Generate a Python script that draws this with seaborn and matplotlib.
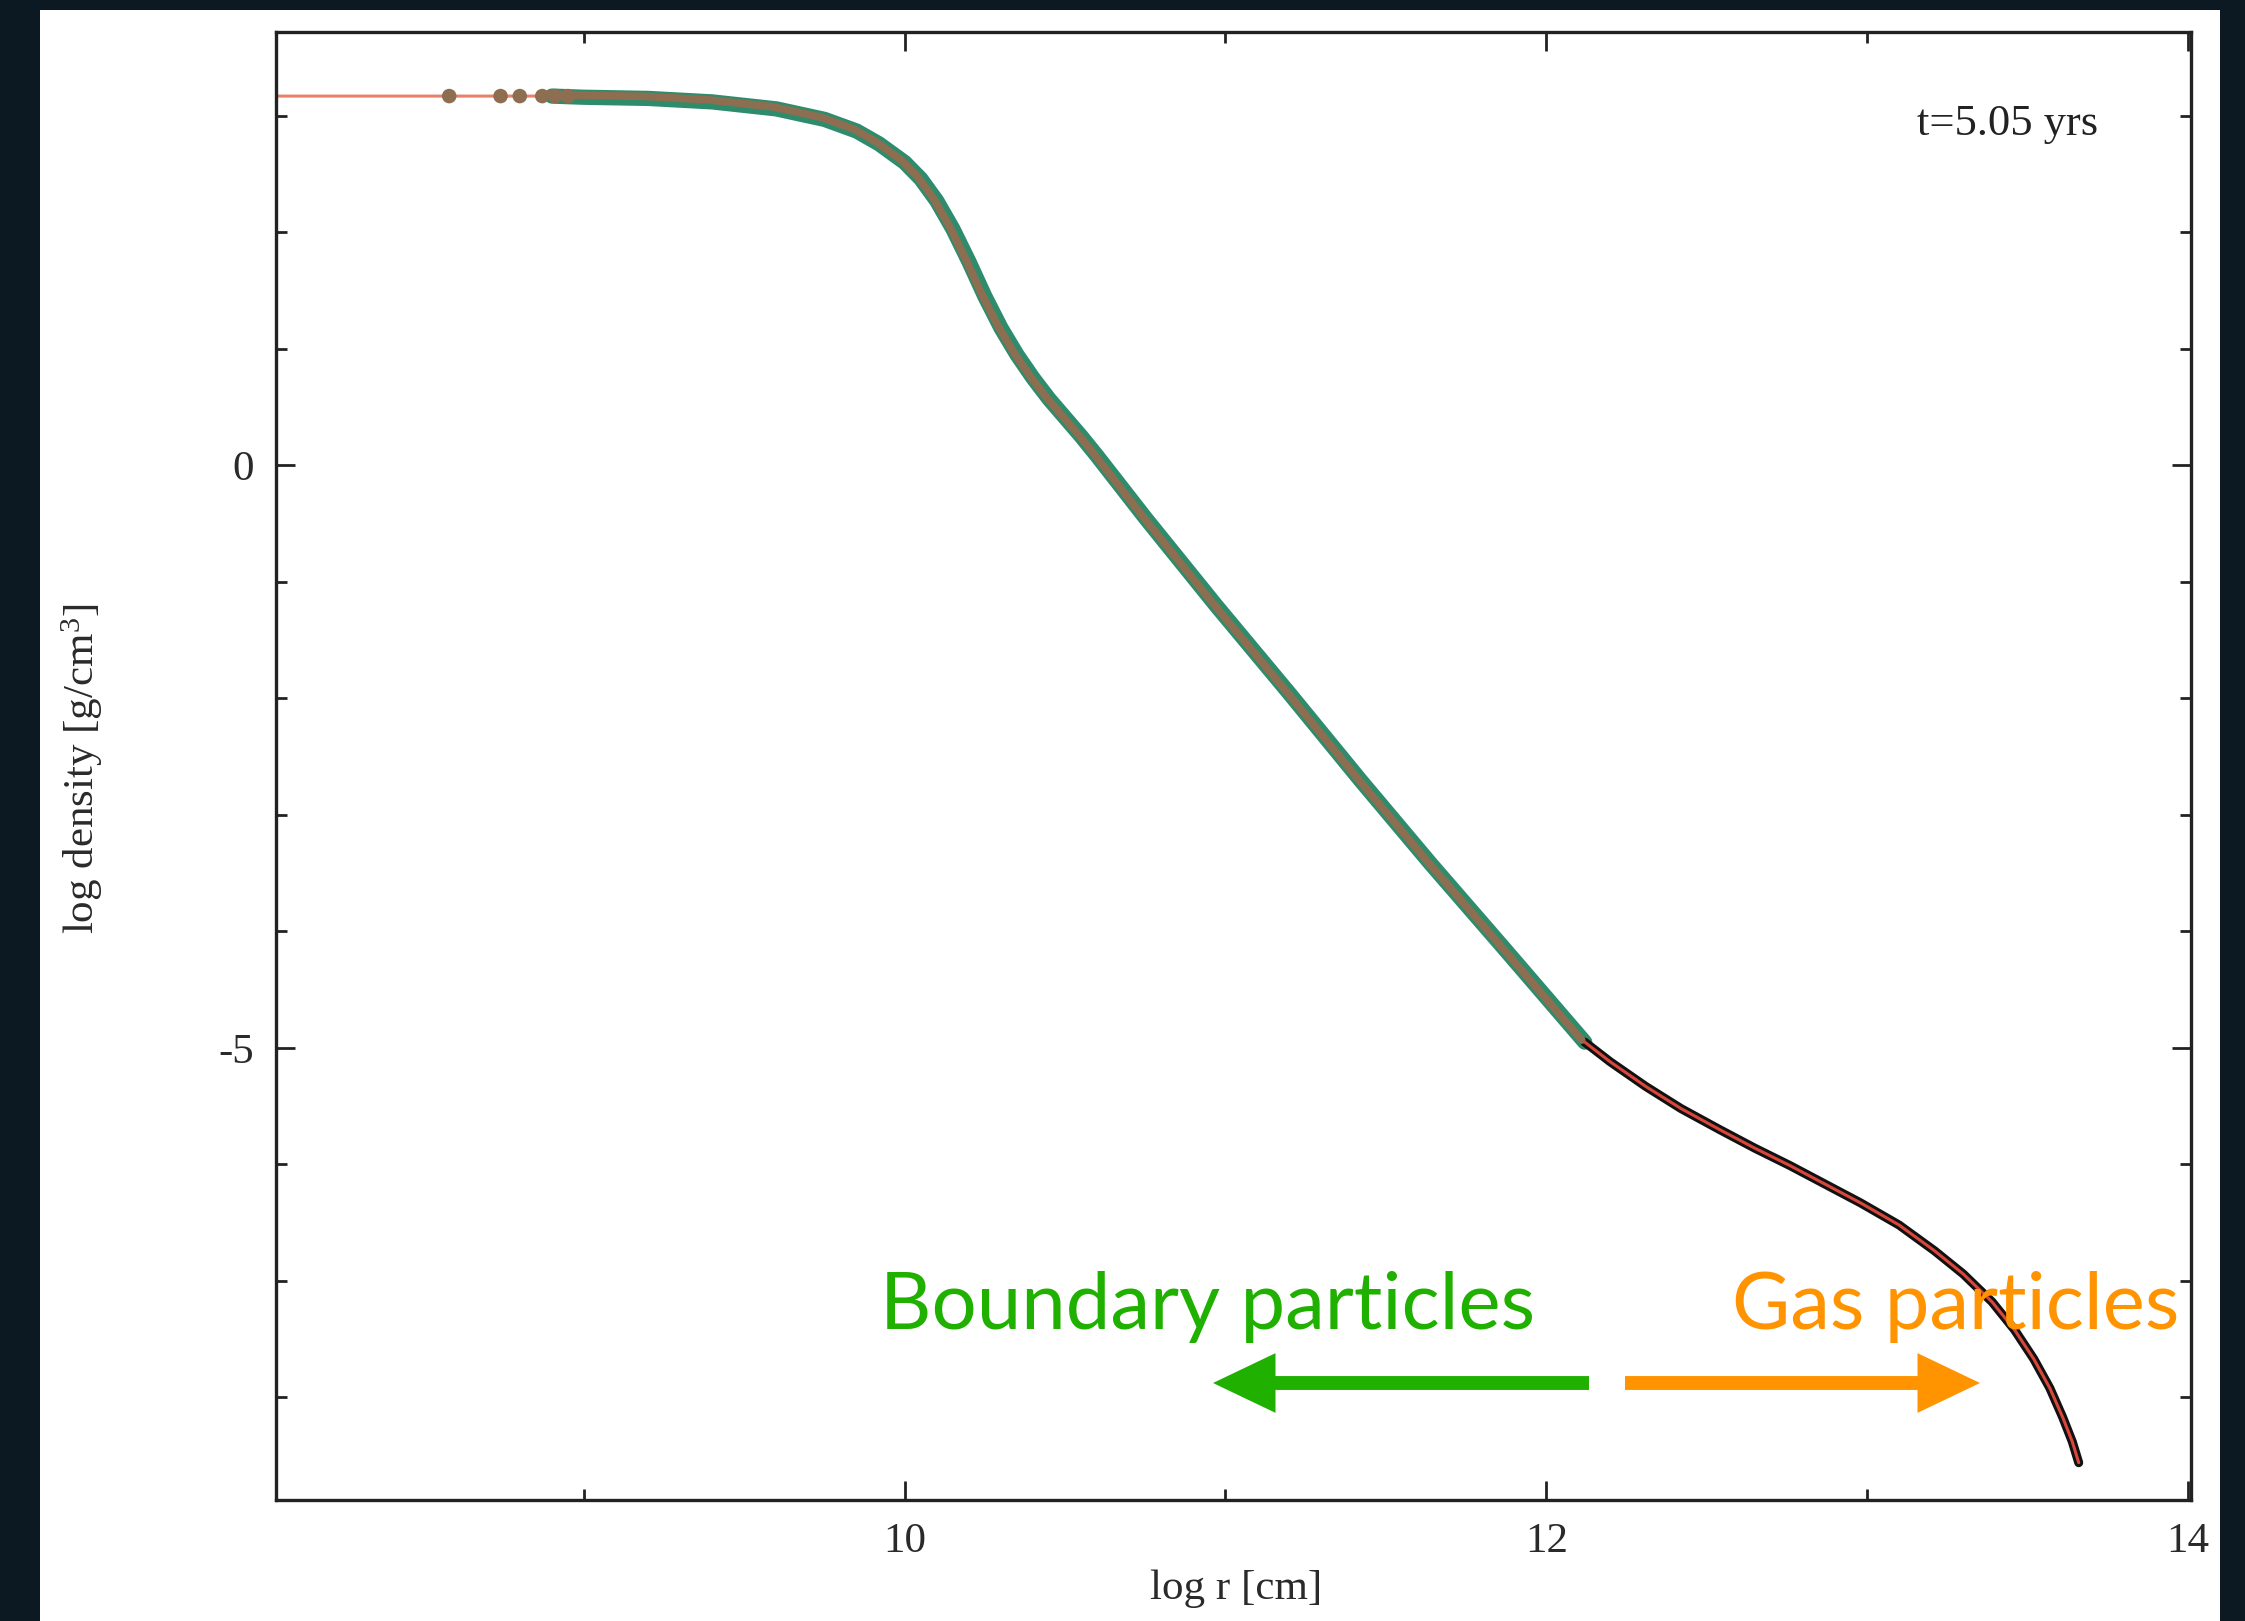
import matplotlib
matplotlib.use("Agg")
import numpy as np
import pandas as pd
import seaborn as sns
import matplotlib.pyplot as plt
from matplotlib.patches import Rectangle
from matplotlib.ticker import FixedLocator
import matplotlib.transforms as mtransforms

# ---------------- data ----------------
boundary_logr = [8.58, 8.74, 8.80, 8.90, 9.00, 9.20, 9.40, 9.60, 9.75, 9.85, 9.92, 10.00,
                 10.05, 10.10, 10.15, 10.20, 10.25, 10.30, 10.35, 10.40, 10.45, 10.50,
                 10.55, 10.60, 10.75, 10.97, 11.20, 11.42, 11.64, 11.87, 12.12]
boundary_logrho = [3.17, 3.17, 3.17, 3.17, 3.16, 3.15, 3.12, 3.06, 2.97, 2.87, 2.76, 2.60,
                   2.46, 2.27, 2.03, 1.75, 1.45, 1.18, 0.95, 0.75, 0.57, 0.41,
                   0.25, 0.08, -0.45, -1.20, -1.96, -2.70, -3.42, -4.15, -4.95]
gas_logr = [12.12, 12.20, 12.31, 12.42, 12.54, 12.65, 12.76, 12.87, 12.98, 13.10, 13.21,
            13.30, 13.39, 13.46, 13.52, 13.57, 13.61, 13.64, 13.66]
gas_logrho = [-4.95, -5.12, -5.33, -5.52, -5.70, -5.86, -6.01, -6.17, -6.33, -6.52, -6.74,
              -6.94, -7.18, -7.42, -7.67, -7.92, -8.17, -8.38, -8.56]
sparse_dot_logr = [8.58, 8.74, 8.80, 8.87, 8.91, 8.95]
sparse_dot_logrho = [3.17, 3.17, 3.17, 3.17, 3.17, 3.17]
core_start_logr = [8.0]
core_start_logrho = [3.17]

x_major = [10, 12, 14]
x_minor = [9, 11, 13]
y_major = [0, -5]
y_minor = [3, 2, 1, -1, -2, -3, -4, -6, -7, -8]

time_label = "t=5.05 yrs"
xlabel = "log r [cm]"
ylabel = r"log density [g/cm$^3$]"
label_boundary = "Boundary particles"
label_gas = "Gas particles"

# ---------------- styling ----------------
W, H = 2245, 1621
sns.set_theme(style="ticks")
plt.rcParams["font.family"] = ["Liberation Serif", "DejaVu Serif"]
plt.rcParams["mathtext.fontset"] = "custom"
plt.rcParams["mathtext.rm"] = "Liberation Serif"
plt.rcParams["mathtext.it"] = "Liberation Serif:italic"

fig = plt.figure(figsize=(W / 100, H / 100), dpi=100, facecolor="#0c1822")
fig.add_artist(Rectangle((40 / W, 0), 2180 / W, 1611 / H, transform=fig.transFigure,
                         facecolor="white", edgecolor="none", zorder=0))

ax_l, ax_r, ax_t, ax_b = 276, 2191, 32, 1500
ax = fig.add_axes([ax_l / W, 1 - ax_b / H, (ax_r - ax_l) / W, (ax_b - ax_t) / H])
ax.set_facecolor("white")

df_b = pd.DataFrame({"logr": boundary_logr, "logrho": boundary_logrho})
df_g = pd.DataFrame({"logr": gas_logr, "logrho": gas_logrho})
df_core = pd.DataFrame({"logr": core_start_logr + boundary_logr + gas_logr[1:],
                        "logrho": core_start_logrho + boundary_logrho + gas_logrho[1:]})
df_dots = pd.DataFrame({"logr": sparse_dot_logr, "logrho": sparse_dot_logrho})

# red analytic line underneath
sns.lineplot(data=df_core, x="logr", y="logrho", ax=ax, sort=False, estimator=None,
             color="#e8806a", lw=2.2, zorder=2)
# boundary particles: green band + brown overlay
sns.lineplot(data=df_b.iloc[3:], x="logr", y="logrho", ax=ax, sort=False, estimator=None,
             color="#2e8c6c", lw=11, zorder=3, solid_capstyle="round",
             solid_joinstyle="round")
shift = mtransforms.ScaledTranslation(-3 / 100, 2 / 100, fig.dpi_scale_trans)
sns.lineplot(data=df_b.iloc[3:], x="logr", y="logrho", ax=ax, sort=False, estimator=None,
             color="#8e6e50", lw=5.5, zorder=4, solid_capstyle="round",
             solid_joinstyle="round", transform=ax.transData + shift)
sns.scatterplot(data=df_dots, x="logr", y="logrho", ax=ax, color="#8e6e50", s=110,
                edgecolor="none", zorder=5)
# gas particles: black thick + red core
sns.lineplot(data=df_g, x="logr", y="logrho", ax=ax, sort=False, estimator=None,
             color="#111111", lw=6.5, zorder=3, solid_capstyle="round",
             solid_joinstyle="round")
sns.lineplot(data=df_g, x="logr", y="logrho", ax=ax, sort=False, estimator=None,
             color="#d9463c", lw=2.2, zorder=4, solid_joinstyle="round")

ax.set_xlim(8.04, 14.01)
ax.set_ylim(-8.88, 3.72)

ax.xaxis.set_major_locator(FixedLocator(x_major))
ax.xaxis.set_minor_locator(FixedLocator(x_minor))
ax.yaxis.set_major_locator(FixedLocator(y_major))
ax.yaxis.set_minor_locator(FixedLocator(y_minor))
ax.set_xticklabels([str(v) for v in x_major])
ax.set_yticklabels([str(v) for v in y_major])
ax.tick_params(which="both", direction="in", top=True, right=True, color="#222222",
               width=2.0, labelsize=31, labelcolor="#2a2a2a")
ax.tick_params(which="major", length=14)
ax.tick_params(which="minor", length=8)
ax.tick_params(axis="x", pad=16)
ax.tick_params(axis="y", pad=16)
for s in ax.spines.values():
    s.set_color("#222222")
    s.set_linewidth(2.4)
    s.set_visible(True)

ax.set_xlabel(xlabel, fontsize=31, color="#2a2a2a")
ax.set_ylabel(ylabel, fontsize=31, color="#2a2a2a")
ax.xaxis.set_label_coords((1236 - ax_l) / (ax_r - ax_l), -(1589 - ax_b) / (ax_b - ax_t))
ax.xaxis.label.set_va("center")
ax.yaxis.set_label_coords(-(ax_l - 82) / (ax_r - ax_l), (ax_b - 769) / (ax_b - ax_t))
ax.yaxis.label.set_va("center")

fig.text(2098 / W, 1 - 135 / H, time_label, ha="right", va="baseline", fontsize=32,
         color="#222222", family=["Liberation Serif"])

# annotation texts, size fitted to the width seen in the picture
t1 = fig.text(880 / W, 1 - 1329 / H, label_boundary, ha="left", va="baseline",
              fontsize=60, color="#1fb000", family=["Lato", "DejaVu Sans"],
              fontweight="normal")
t2 = fig.text(1732 / W, 1 - 1329 / H, label_gas, ha="left", va="baseline",
              fontsize=60, color="#ff9300", family=["Lato", "DejaVu Sans"],
              fontweight="normal")
fig.canvas.draw()
r = fig.canvas.get_renderer()
w1 = t1.get_window_extent(r).width
fs = 60 * 656 / w1
t1.set_fontsize(fs)
t2.set_fontsize(fs)

# arrows (figure pixels)
ay = H - 1383
ax.annotate("", xy=(1213, ay), xytext=(1589, ay), xycoords="figure pixels",
            textcoords="figure pixels",
            arrowprops=dict(width=10, headwidth=43, headlength=45, color="#1fb000",
                            shrink=0, linewidth=0))
ax.annotate("", xy=(1980, ay), xytext=(1625, ay), xycoords="figure pixels",
            textcoords="figure pixels",
            arrowprops=dict(width=10, headwidth=43, headlength=45, color="#ff9300",
                            shrink=0, linewidth=0))

fig.savefig("out.png", dpi=100, facecolor=fig.get_facecolor())
